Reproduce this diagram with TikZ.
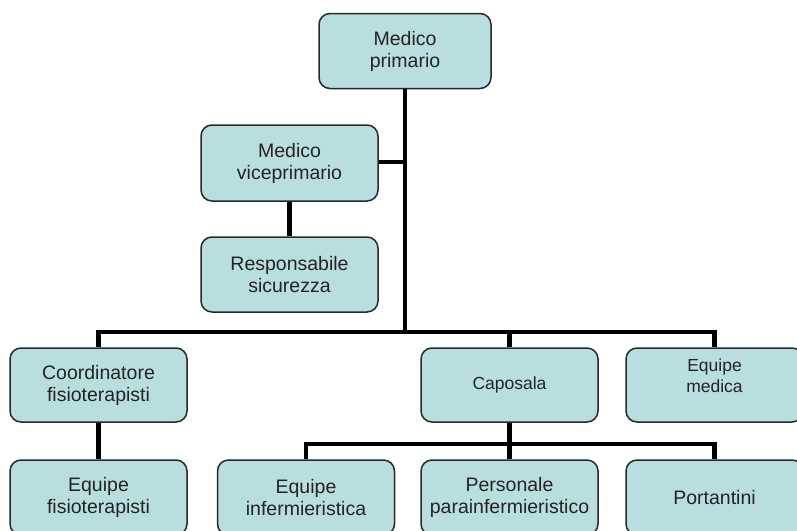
\documentclass[tikz,border=0pt]{standalone}
\usepackage{fontspec}
\setmainfont{Liberation Sans}
\definecolor{boxfill}{RGB}{185,222,224}
\definecolor{boxline}{RGB}{40,40,40}
\definecolor{textcol}{RGB}{35,35,35}
\tikzset{
  orgbox/.style={draw=boxline, fill=boxfill, rounded corners=11pt, line width=1.5pt,
    minimum width=177pt, minimum height=75pt, inner sep=0pt, align=center,
    text=textcol, font=\fontsize{19.5}{22}\selectfont},
  smalltext/.style={font=\fontsize{17.5}{21}\selectfont},
  conn/.style={draw=black, line width=4.8pt, line join=miter, line cap=butt}
}
\begin{document}
\begin{tikzpicture}[x=1pt, y=-1pt]
\useasboundingbox (0,0) rectangle (797,530);
\clip (0,0) rectangle (797,530);
\coordinate (bus) at (0,332);
\coordinate (bus2) at (0,444);
\coordinate (vjoin) at (0,162);
\node[orgbox, minimum width=172pt] (mp) at (405,51) {Medico\\primario};
\node[orgbox, minimum height=76pt] (mv) at (289.5,163) {Medico\\viceprimario};
\node[orgbox] (rs) at (289.5,274.5) {Responsabile\\sicurezza};
\node[orgbox, minimum height=74pt] (cf) at (98.5,385) {Coordinatore\\fisioterapisti};
\node[orgbox, minimum height=74pt, smalltext] (ca) at (509.5,385) {Caposala};
\node[orgbox, minimum height=74pt, smalltext] (em) at (714.5,385) {\raisebox{31pt}{\parbox{120pt}{\centering Equipe\\medica}}};
\node[orgbox] (ef) at (98.5,497.5) {Equipe\\fisioterapisti};
\node[orgbox] (ei) at (306,497.5) {Equipe\\infermieristica};
\node[orgbox] (pp) at (509.5,497.5) {Personale\\parainfermieristico};
\node[orgbox] (po) at (714.5,497.5) {Portantini};
% trunk
\path[conn] (mp.south) -- (mp.south |- bus);
\path[conn] (mv.east |- vjoin) -- (mp.south |- vjoin);
\path[conn] (mv.south) -- (rs.north);
% first level bus
\path[conn] (cf.north) -- (cf.north |- bus) -- (em.north |- bus) -- (em.north);
\path[conn] (ca.north) -- (ca.north |- bus);
\path[conn] (cf.south) -- (ef.north);
% second level bus
\path[conn] (ca.south) -- (ca.south |- bus2);
\path[conn] (ei.north) -- (ei.north |- bus2) -- (po.north |- bus2) -- (po.north);
\path[conn] (pp.north) -- (pp.north |- bus2);
\end{tikzpicture}
\end{document}
